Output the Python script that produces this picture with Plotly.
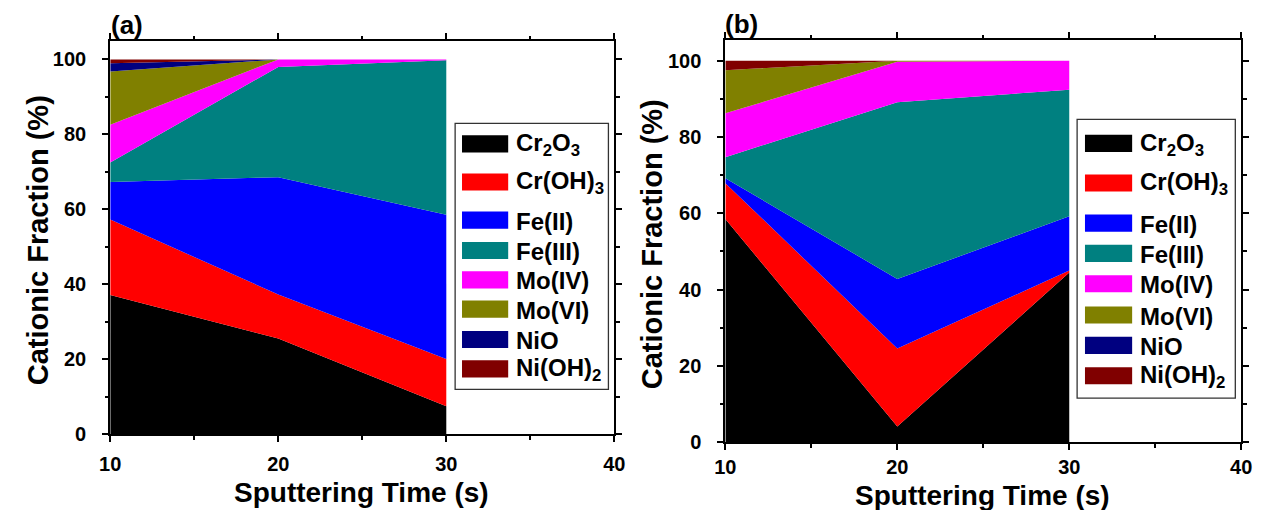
import plotly.graph_objects as go

W, H = 1264, 510

time_s = [10, 20, 30]
species = ["Cr<sub>2</sub>O<sub>3</sub>", "Cr(OH)<sub>3</sub>", "Fe(II)", "Fe(III)",
           "Mo(IV)", "Mo(VI)", "NiO", "Ni(OH)<sub>2</sub>"]
colors = ["#000000", "#FF0000", "#0000FF", "#008080", "#FF00FF", "#808000", "#000080", "#800000"]

# panel (a) cationic fractions (%) at 10, 20, 30 s
a_cr2o3 = [37.2, 25.6, 7.5]
a_croh3 = [20.1, 11.7, 12.6]
a_fe2 = [10.0, 31.3, 38.5]
a_fe3 = [5.2, 29.4, 41.2]
a_mo4 = [10.1, 2.0, 0.2]
a_mo6 = [14.2, 0.0, 0.0]
a_nio = [2.2, 0.0, 0.0]
a_nioh2 = [1.0, 0.0, 0.0]

# panel (b)
b_cr2o3 = [58.5, 4.1, 44.5]
b_croh3 = [9.4, 20.5, 0.5]
b_fe2 = [1.3, 18.2, 14.2]
b_fe3 = [5.5, 46.3, 33.2]
b_mo4 = [11.5, 10.6, 7.6]
b_mo6 = [11.3, 0.3, 0.0]
b_nio = [0.0, 0.0, 0.0]
b_nioh2 = [2.5, 0.0, 0.0]

x_ticks = [10, 20, 30, 40]
y_ticks = [0, 20, 40, 60, 80, 100]

panel_a = [a_cr2o3, a_croh3, a_fe2, a_fe3, a_mo4, a_mo6, a_nio, a_nioh2]
panel_b = [b_cr2o3, b_croh3, b_fe2, b_fe3, b_mo4, b_mo6, b_nio, b_nioh2]

FONT = "Arial, Liberation Sans, sans-serif"

def px(x):
    return x / W

def py(y):
    return 1 - y / H

fig = go.Figure()

for vals, name, col in zip(panel_a, species, colors):
    fig.add_trace(go.Scatter(x=time_s, y=vals, name=name, stackgroup="a", mode="lines",
                             line=dict(width=0, color=col), fillcolor=col,
                             xaxis="x", yaxis="y", showlegend=False))
for vals, name, col in zip(panel_b, species, colors):
    fig.add_trace(go.Scatter(x=time_s, y=vals, name=name, stackgroup="b", mode="lines",
                             line=dict(width=0, color=col), fillcolor=col,
                             xaxis="x2", yaxis="y2", showlegend=False))

def xaxis(domain, anchor, standoff):
    return dict(domain=domain, anchor=anchor, range=[10, 40], tickvals=x_ticks,
                showline=True, linewidth=2, linecolor="black", mirror="ticks",
                ticks="outside", ticklen=6, tickwidth=2, tickcolor="black",
                minor=dict(ticks="outside", dtick=5, ticklen=3.5, tickwidth=1.5, tickcolor="black"),
                showgrid=False, zeroline=False, ticklabelstandoff=standoff,
                tickfont=dict(family=FONT, size=20, color="black", weight="bold"))

def yaxis(domain, anchor, ymax):
    return dict(domain=domain, anchor=anchor, range=[0, ymax], tickvals=y_ticks,
                showline=True, linewidth=2, linecolor="black", mirror="ticks",
                ticks="outside", ticklen=6, tickwidth=2, tickcolor="black",
                minor=dict(ticks="outside", dtick=10, ticklen=3.5, tickwidth=1.5, tickcolor="black"),
                showgrid=False, zeroline=False, ticklabelstandoff=12,
                tickfont=dict(family=FONT, size=20, color="black", weight="bold"))

shapes = []
annotations = []

def legend(box, sw_x0, sw_x1, text_x, centers, sw_h=17.5):
    x0, y0, x1, y1 = box
    shapes.append(dict(type="rect", xref="paper", yref="paper",
                       x0=px(x0), x1=px(x1), y0=py(y1), y1=py(y0),
                       line=dict(color="#333333", width=1.3), fillcolor="white", layer="above"))
    for c, name, col in zip(centers, species, colors):
        shapes.append(dict(type="rect", xref="paper", yref="paper",
                           x0=px(sw_x0), x1=px(sw_x1), y0=py(c + sw_h / 2), y1=py(c - sw_h / 2),
                           line=dict(width=0), fillcolor=col, layer="above"))
        annotations.append(dict(xref="paper", yref="paper", x=px(text_x), y=py(c + 1),
                                xanchor="left", yanchor="middle", showarrow=False,
                                text="<b>" + name + "</b>",
                                font=dict(family=FONT, size=24, color="black")))

legend((452, 126, 608, 398), 459, 506, 512, [147, 186, 225, 256, 286, 316, 347, 377])
legend((1085, 122, 1246, 407), 1093, 1141, 1147, [146.5, 187, 228, 259, 290, 322, 353, 384])

def text(x, y, s, size, angle=0, xanchor="center", pad=1):
    annotations.append(dict(xref="paper", yref="paper", x=px(x), y=py(y), xanchor=xanchor,
                            yanchor="middle", showarrow=False, text="<b>" + s + "</b>",
                            textangle=angle, borderpad=pad,
                            font=dict(family=FONT, size=size, color="black")))

text(100, 26, "(a)", 26, xanchor="left")
text(725, 25, "(b)", 26, xanchor="left")
text(27, 246, "Cationic Fraction (%)", 29, angle=-90)
text(652, 250, "Cationic Fraction (%)", 29, angle=-90)
text(357, 503, "Sputtering Time (s)", 28, pad=0)
text(989, 506, "Sputtering Time (s)", 28, pad=0)

fig.update_layout(
    width=W, height=H, margin=dict(l=0, r=0, t=0, b=0),
    paper_bgcolor="white", plot_bgcolor="white",
    xaxis=xaxis([px(101), px(614)], "y", 5),
    yaxis=yaxis([py(444), py(42)], "x", (444 - 42) / 3.833),
    xaxis2=xaxis([px(727), px(1252)], "y2", 0),
    yaxis2=yaxis([py(452), py(41)], "x2", (452 - 41) / 3.9),
    shapes=shapes, annotations=annotations, showlegend=False,
)

fig.write_html("out.html")
